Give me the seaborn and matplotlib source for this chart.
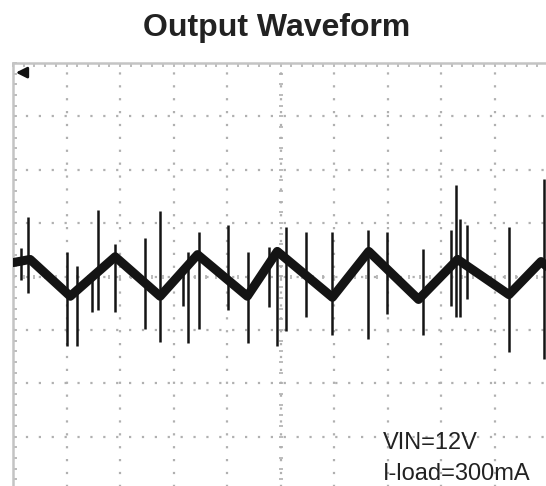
import numpy as np
import pandas as pd
import matplotlib
matplotlib.use("Agg")
import matplotlib.pyplot as plt
import seaborn as sns

# trace, in divisions (x: 0..10, y: -4..4 around centre)
trace_x = [0.0, 0.32, 1.07, 1.91, 2.75, 3.45, 4.38, 4.94, 5.97, 6.65, 7.58, 8.31, 9.27, 9.87, 10.0]
trace_y = [0.26, 0.32, -0.37, 0.37, -0.37, 0.41, -0.37, 0.47, -0.39, 0.47, -0.43, 0.32, -0.34, 0.28, 0.17]

# switching spikes: position, top, bottom (divisions)
spike_x = [0.15, 0.28, 1.01, 1.20, 1.48, 1.59, 1.91, 2.47, 2.75, 3.18, 3.28, 3.48, 4.01, 4.40,
           4.78, 4.94, 5.11, 5.47, 5.97, 6.63, 6.99, 7.66, 8.18, 8.28, 8.35, 8.48, 9.27, 9.93]
spike_top = [0.54, 1.12, 0.45, 0.19, -0.06, 1.25, 0.60, 0.73, 1.22, 0.13, 0.45, 0.84, 0.97, 0.45,
             0.56, 0.37, 0.92, 0.84, 0.84, 0.88, 0.84, 0.51, 0.88, 1.72, 1.07, 0.97, 0.92, 1.82]
spike_bottom = [-0.06, -0.30, -1.31, -1.31, -0.67, -0.62, -0.67, -0.99, -1.22, -0.56, -1.24, -0.99, -0.62, -1.24,
                -0.58, -1.31, -1.03, -0.75, -1.09, -1.18, -0.71, -1.09, -0.56, -0.75, -0.75, -0.43, -1.42, -1.55]

title = "Output Waveform"
notes = ["VIN=12V", "I-load=300mA"]

sns.set_style("white")
plt.rcParams['font.family'] = ['Liberation Sans', 'DejaVu Sans']

fig = plt.figure(figsize=(5.46, 4.86), dpi=100)
ax = fig.add_axes([13/546, -4/486, 535/546, 427/486])
ax.set_xlim(0, 10)
ax.set_ylim(-4, 4)

grid_col = '#b0b0b0'
# dotted graticule
for gx in range(1, 10):
    ax.axvline(gx, color=grid_col, lw=1.6, linestyle=(0, (1, 4.8)), zorder=0)
for gy in range(-3, 4):
    ax.axhline(gy, color=grid_col, lw=1.6, linestyle=(0, (1, 4.8)), zorder=0)

# little ticks on the centre cross
minor = np.arange(-4, 4.01, 0.2)
ax.plot(np.full_like(minor, 5.0), minor, ls='none', marker='_', ms=3.5, mew=1.2, color=grid_col, zorder=0)
minor_x = np.arange(0, 10.01, 0.2)
ax.plot(minor_x, np.zeros_like(minor_x), ls='none', marker='|', ms=3.5, mew=1.2, color=grid_col, zorder=0)

for s in ['right', 'bottom']:
    ax.spines[s].set_visible(False)
for s in ['left', 'top']:
    ax.spines[s].set_color('#c4c4c4')
    ax.spines[s].set_linewidth(1.8)
ax.set_xticks(np.arange(0, 10.01, 0.2))
ax.set_yticks(np.arange(-4, 4.01, 0.2))
ax.tick_params(axis='both', direction='in', length=3, width=1.2, color=grid_col,
               labelleft=False, labelbottom=False, left=True, bottom=False, top=True)
ax.xaxis.set_ticks_position('top')
ax.tick_params(axis='x', labeltop=False)

# trace
df = pd.DataFrame({'t': trace_x, 'v': trace_y})
sns.lineplot(data=df, x='t', y='v', ax=ax, color='#141414', lw=6.5, sort=True, zorder=3,
             solid_joinstyle='round', solid_capstyle='round')
ax.vlines(spike_x, spike_bottom, spike_top, color='#141414', lw=1.8, zorder=4)
ax.set_xlabel('')
ax.set_ylabel('')

# trigger marker at top left
ax.annotate('', xy=(0.0, 3.82), xytext=(0.3, 3.82),
            arrowprops=dict(arrowstyle='-|>', color='#111111', lw=2.0, mutation_scale=16))

fig.text(277/546, 1 - 28/486, title, ha='center', va='center', fontsize=23, fontweight='bold', color='#222222')
fig.text(383/546, 1 - 443/486, notes[0], ha='left', va='center', fontsize=17, color='#222222')
fig.text(383/546, 1 - 474/486, notes[1], ha='left', va='center', fontsize=17, color='#222222')

fig.savefig('out.png', dpi=100)
